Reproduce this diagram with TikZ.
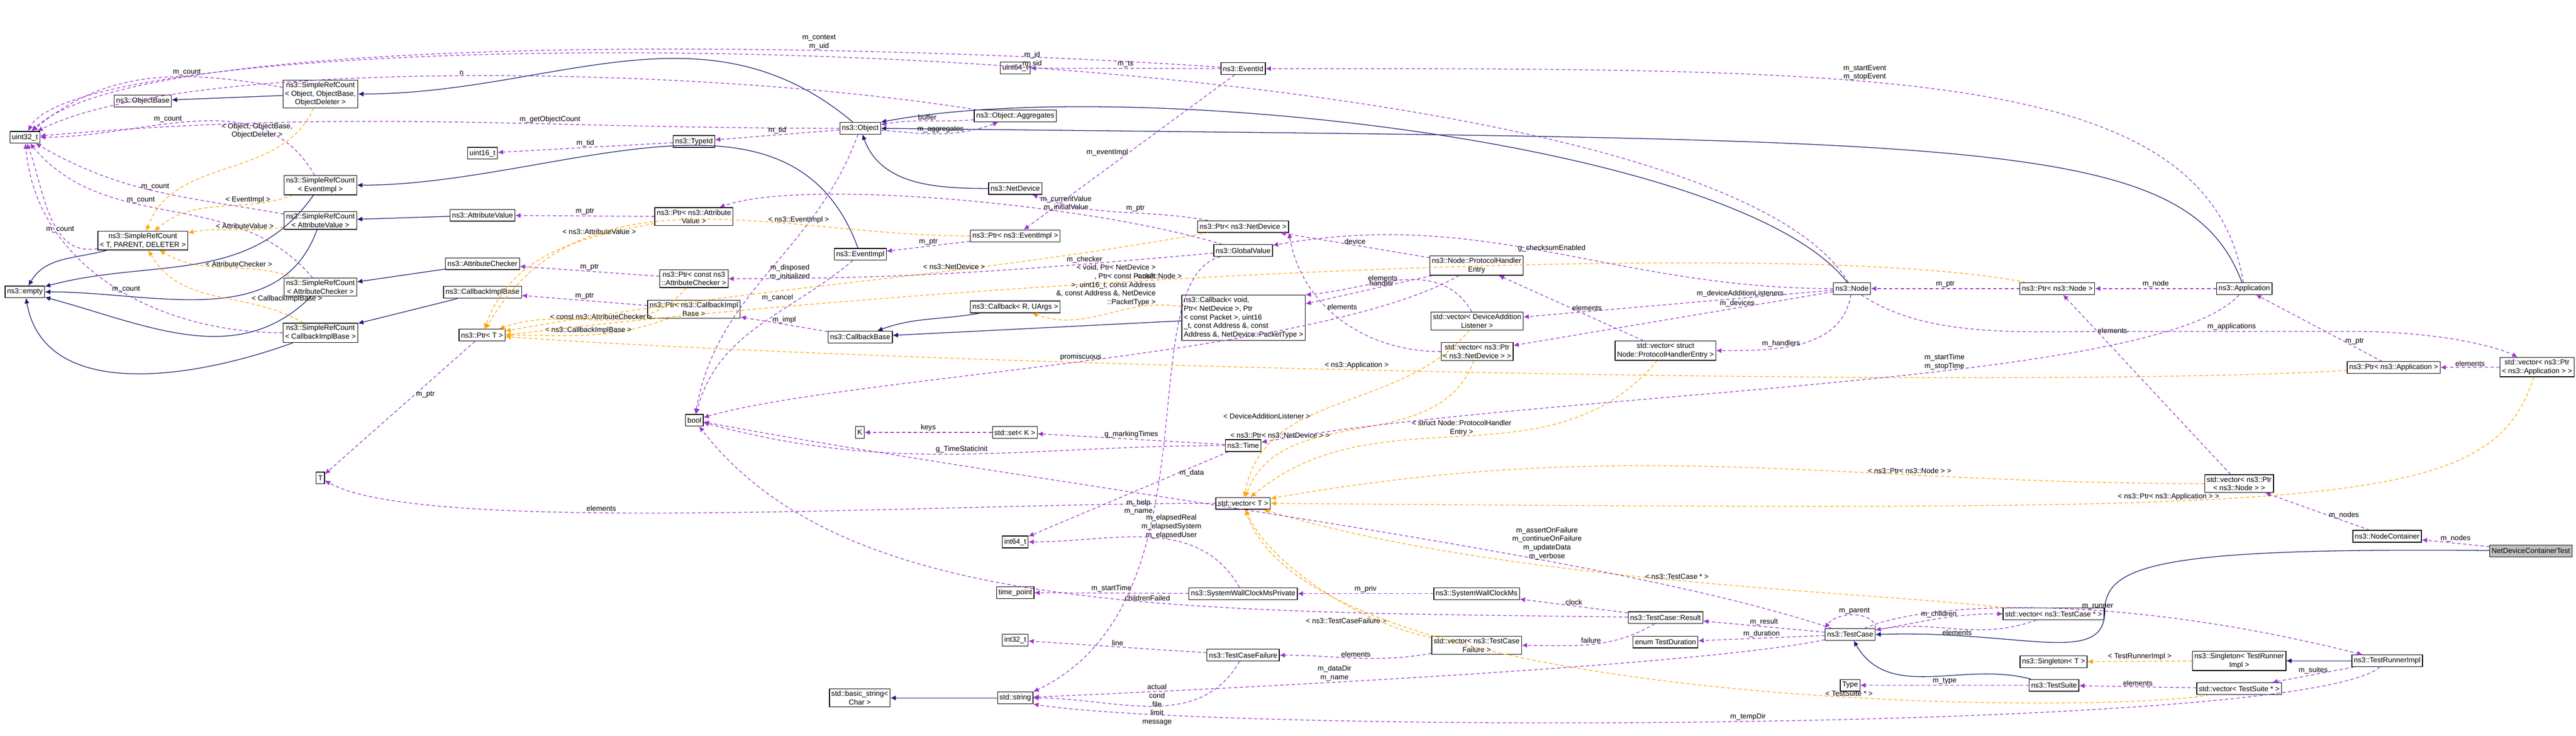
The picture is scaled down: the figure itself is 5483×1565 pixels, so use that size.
\documentclass[tikz,border=0pt]{standalone}
\usepackage{fontspec}
\setmainfont{Liberation Sans}
\usetikzlibrary{arrows.meta,positioning}
\definecolor{usecol}{HTML}{9A32CD}
\definecolor{inhcol}{HTML}{191970}
\definecolor{tplcol}{HTML}{FFA500}
\tikzset{
  x=0.01cm, y=-0.01cm,
  cls/.style={draw, fill=white, font=\fontsize{4.4}{5.2}\selectfont, inner sep=1.2pt, minimum height=0.25cm, align=center},
  use/.style={draw=usecol, dash pattern=on 2pt off 1.5pt, -{Latex[length=3.2pt,width=3pt]}},
  inh/.style={draw=inhcol, -{Latex[length=3.2pt,width=3pt]}},
  tpl/.style={draw=tplcol, dash pattern=on 2pt off 1.5pt, -{Latex[length=3.2pt,width=3pt]}},
  lbl/.style={font=\fontsize{4.4}{5.2}\selectfont, inner sep=0.5pt, align=center}
}
\begin{document}
\begin{tikzpicture}
  \useasboundingbox (0,0) rectangle (5483,1565);
  % left column
  \node[cls] (u32) at (53,292) {uint32\_t};
  \node[cls] (empty) at (53,621) {ns3::empty};
  \node[cls] (objbase) at (304,215) {ns3::ObjectBase};
  \node[cls] (srcTPD) at (304,512) {ns3::SimpleRefCount\\ \textless{} T, PARENT, DELETER \textgreater};
  \node[cls] (srcObj) at (682,200) {ns3::SimpleRefCount\\ \textless{} Object, ObjectBase,\\ ObjectDeleter \textgreater};
  \node[cls] (srcEv) at (682,394) {ns3::SimpleRefCount\\ \textless{} EventImpl \textgreater};
  \node[cls] (srcAV) at (682,469) {ns3::SimpleRefCount\\ \textless{} AttributeValue \textgreater};
  \node[cls] (srcAC) at (682,611) {ns3::SimpleRefCount\\ \textless{} AttributeChecker \textgreater};
  \node[cls] (srcCB) at (682,708) {ns3::SimpleRefCount\\ \textless{} CallbackImplBase \textgreater};
  \node[cls] (tT) at (682,1017) {T};
  % second column
  \node[cls] (u16) at (1027,326) {uint16\_t};
  \node[cls] (attrval) at (1027,458) {ns3::AttributeValue};
  \node[cls] (attrchk) at (1027,561) {ns3::AttributeChecker};
  \node[cls] (cbimpl) at (1027,622) {ns3::CallbackImplBase};
  \node[cls] (ptrT) at (1026,713) {ns3::Ptr\textless{} T \textgreater};
  % third column
  \node[cls] (typeid) at (1477,301) {ns3::TypeId};
  \node[cls] (ptrAV) at (1477,461) {ns3::Ptr\textless{} ns3::Attribute\\ Value \textgreater};
  \node[cls] (ptrAC) at (1477,593) {ns3::Ptr\textless{} const ns3\\ ::AttributeChecker \textgreater};
  \node[cls] (ptrCB) at (1477,658) {ns3::Ptr\textless{} ns3::CallbackImpl\\ Base \textgreater};
  \node[cls] (boolT) at (1478,894) {bool};
  % fourth column
  \node[cls] (obj) at (1831,273) {ns3::Object};
  \node[cls] (evimpl) at (1831,541) {ns3::EventImpl};
  \node[cls] (cbbase) at (1831,717) {ns3::CallbackBase};
  \node[cls] (kT) at (1830,920) {K};
  \node[cls] (bstr) at (1830,1485) {std::basic\_string\textless\\ Char \textgreater};
  % fifth column
  \node[cls] (u64) at (2161,145) {uint64\_t};
  \node[cls] (aggr) at (2161,247) {ns3::Object::Aggregates};
  \node[cls] (netdev) at (2161,401) {ns3::NetDevice};
  \node[cls] (ptrEv) at (2161,502) {ns3::Ptr\textless{} ns3::EventImpl \textgreater};
  \node[cls] (cbRU) at (2161,653) {ns3::Callback\textless{} R, UArgs \textgreater};
  \node[cls] (setK) at (2160,920) {std::set\textless{} K \textgreater};
  \node[cls] (i64) at (2161,1153) {int64\_t};
  \node[cls] (tpoint) at (2161,1261) {time\_point};
  \node[cls] (i32) at (2161,1362) {int32\_t};
  \node[cls] (sstr) at (2161,1485) {std::string};
  % sixth column
  \node[cls] (evid) at (2646,146) {ns3::EventId};
  \node[cls] (ptrND) at (2646,482) {ns3::Ptr\textless{} ns3::NetDevice \textgreater};
  \node[cls] (gval) at (2646,533) {ns3::GlobalValue};
  \node[cls, align=left] (cbvoid) at (2647,676) {ns3::Callback\textless{} void,\\ Ptr\textless{} NetDevice \textgreater, Ptr\\ \textless{} const Packet \textgreater, uint16\\ \_t, const Address \&, const\\ Address \&, NetDevice::PacketType \textgreater};
  \node[cls] (timeT) at (2646,948) {ns3::Time};
  \node[cls] (vecT) at (2646,1071) {std::vector\textless{} T \textgreater};
  \node[cls] (swcmp) at (2646,1263) {ns3::SystemWallClockMsPrivate};
  \node[cls] (tcfail) at (2646,1394) {ns3::TestCaseFailure};
  % seventh column
  \node[cls] (phe) at (3143,565) {ns3::Node::ProtocolHandler\\ Entry};
  \node[cls] (vecDAL) at (3144,683) {std::vector\textless{} DeviceAddition\\ Listener \textgreater};
  \node[cls] (vecPND) at (3144,748) {std::vector\textless{} ns3::Ptr\\ \textless{} ns3::NetDevice \textgreater{} \textgreater};
  \node[cls] (swcm) at (3143,1263) {ns3::SystemWallClockMs};
  \node[cls] (vecTCF) at (3143,1373) {std::vector\textless{} ns3::TestCase\\ Failure \textgreater};
  % eighth column
  \node[cls] (vecPHE) at (3545,746) {std::vector\textless{} struct\\ Node::ProtocolHandlerEntry \textgreater};
  \node[cls] (result) at (3545,1314) {ns3::TestCase::Result};
  \node[cls] (tdur) at (3545,1366) {enum TestDuration};
  % ninth column
  \node[cls] (node) at (3942,614) {ns3::Node};
  \node[cls] (tcase) at (3938,1350) {ns3::TestCase};
  \node[cls] (typeT) at (3938,1458) {Type};
  % right part
  \node[cls] (ptrNode) at (4379,614) {ns3::Ptr\textless{} ns3::Node \textgreater};
  \node[cls] (vecTC) at (4371,1306) {std::vector\textless{} ns3::TestCase * \textgreater};
  \node[cls] (singT) at (4371,1408) {ns3::Singleton\textless{} T \textgreater};
  \node[cls] (tsuite) at (4372,1458) {ns3::TestSuite};
  \node[cls] (app) at (4777,614) {ns3::Application};
  \node[cls] (vecPNode) at (4766,1029) {std::vector\textless{} ns3::Ptr\\ \textless{} ns3::Node \textgreater{} \textgreater};
  \node[cls] (singTR) at (4766,1406) {ns3::Singleton\textless{} TestRunner\\ Impl \textgreater};
  \node[cls] (vecTS) at (4766,1465) {std::vector\textless{} TestSuite * \textgreater};
  \node[cls] (ptrApp) at (5095,782) {ns3::Ptr\textless{} ns3::Application \textgreater};
  \node[cls] (nodecont) at (5081,1141) {ns3::NodeContainer};
  \node[cls] (trimpl) at (5081,1406) {ns3::TestRunnerImpl};
  \node[cls] (vecPApp) at (5400,781) {std::vector\textless{} ns3::Ptr\\ \textless{} ns3::Application \textgreater{} \textgreater};
  \node[cls, fill=black!25] (ndct) at (5387,1172) {NetDeviceContainerTest};

  % inheritance
  \draw[inh] (srcTPD) to[out=195,in=60] (empty);
  \draw[inh] (srcEv) to[out=235,in=15] (empty);
  \draw[inh] (srcAV) to[out=250,in=0] (empty);
  \draw[inh] (srcAC) to[out=225,in=-15] (empty);
  \draw[inh] (srcCB) to[out=200,in=-80] (empty);
  \draw[inh] (srcObj) -- (objbase);
  \draw[inh] (obj) to[out=140,in=0] (srcObj);
  \draw[inh] (evimpl) to[out=110,in=0] (srcEv);
  \draw[inh] (attrval) -- (srcAV);
  \draw[inh] (attrchk) -- (srcAC);
  \draw[inh] (cbimpl) -- (srcCB);
  \draw[inh] (netdev) to[out=180,in=-70] (obj);
  \draw[inh] (node) .. controls (3700,300) and (2400,160) .. (obj.north east);
  \draw[inh] (app) .. controls (4650,280) and (4200,300) .. (obj.east);
  \draw[inh] (cbRU) to[out=190,in=20] (cbbase);
  \draw[inh] (cbvoid) -- (cbbase);
  \draw[inh] (sstr) -- (bstr);
  \draw[inh] (tsuite) to[out=165,in=-60] (tcase);
  \draw[inh] (ndct) .. controls (4600,1165) and (4480,1200) .. (4480,1300) .. controls (4480,1420) and (4300,1340) .. (tcase.east);
  \draw[inh] (trimpl) -- (singTR);

  % templates
  \draw[tpl] (srcObj) to[out=245,in=70] node[lbl,pos=0.12,left=3pt]{\textless{} Object, ObjectBase,\\ ObjectDeleter \textgreater} (srcTPD);
  \draw[tpl] (srcEv) to[out=200,in=40] node[lbl,pos=0.3,above]{\textless{} EventImpl \textgreater} (srcTPD);
  \draw[tpl] (srcAV) to[out=190,in=10] node[lbl,pos=0.4,above]{\textless{} AttributeValue \textgreater} (srcTPD);
  \draw[tpl] (srcAC) to[out=160,in=-30] node[lbl,pos=0.4,above]{\textless{} AttributeChecker \textgreater} (srcTPD);
  \draw[tpl] (srcCB) to[out=150,in=-60] node[lbl,pos=0.3,above right]{\textless{} CallbackImplBase \textgreater} (srcTPD);
  \draw[tpl] (ptrAV) to[out=190,in=70] node[lbl,pos=0.25,above]{\textless{} ns3::AttributeValue \textgreater} (ptrT);
  \draw[tpl] (ptrEv) to[out=180,in=60] node[lbl,pos=0.3,above]{\textless{} ns3::EventImpl \textgreater} (ptrT);
  \draw[tpl] (ptrAC) to[out=230,in=20] node[lbl,pos=0.5,above]{\textless{} const ns3::AttributeChecker \textgreater} (ptrT);
  \draw[tpl] (ptrCB) to[out=200,in=0] node[lbl,pos=0.5,above]{\textless{} ns3::CallbackImplBase \textgreater} (ptrT);
  \draw[tpl] (ptrND) to[out=190,in=10] node[lbl,pos=0.35,above]{\textless{} ns3::NetDevice \textgreater} (ptrT);
  \draw[tpl] (ptrNode) .. controls (3800,500) and (2000,600) .. node[lbl,pos=0.6,above]{\textless{} ns3::Node \textgreater} (ptrT.east);
  \draw[tpl] (ptrApp) .. controls (4300,830) and (2000,780) .. node[lbl,pos=0.55,above]{\textless{} ns3::Application \textgreater} (ptrT);
  \draw[tpl] (cbvoid) to[out=170,in=-20] node[lbl,pos=0.5,above=4pt, align=right]{\textless{} void, Ptr\textless{} NetDevice \textgreater\\ , Ptr\textless{} const Packet\\ \textgreater, uint16\_t, const Address\\ \&, const Address \&, NetDevice\\ ::PacketType \textgreater} (cbRU);
  \draw[tpl] (vecDAL) to[out=230,in=80] node[lbl,pos=0.6,left]{\textless{} DeviceAdditionListener \textgreater} (vecT);
  \draw[tpl] (vecPND) to[out=250,in=70] node[lbl,pos=0.6,left]{\textless{} ns3::Ptr\textless{} ns3::NetDevice \textgreater{} \textgreater} (vecT);
  \draw[tpl] (vecPHE) to[out=230,in=40] node[lbl,pos=0.5,above]{\textless{} struct Node::ProtocolHandler\\ Entry \textgreater} (vecT);
  \draw[tpl] (vecPNode) to[out=180,in=10] node[lbl,pos=0.3,above]{\textless{} ns3::Ptr\textless{} ns3::Node \textgreater{} \textgreater} (vecT);
  \draw[tpl] (vecPApp) .. controls (5300,1090) and (5000,1088) .. node[lbl,pos=0.6,above]{\textless{} ns3::Ptr\textless{} ns3::Application \textgreater{} \textgreater} (vecT.east);
  \draw[tpl] (vecTC) .. controls (4000,1260) and (3200,1240) .. node[lbl,pos=0.5,above]{\textless{} ns3::TestCase * \textgreater} (vecT);
  \draw[tpl] (vecTCF) .. controls (2900,1330) and (2700,1200) .. node[lbl,pos=0.2,above left]{\textless{} ns3::TestCaseFailure \textgreater} (vecT);
  \draw[tpl] (vecTS) .. controls (4500,1520) and (2800,1520) .. node[lbl,pos=0.4,above]{\textless{} TestSuite * \textgreater} (vecT);
  \draw[tpl] (singTR) -- node[lbl,above]{\textless{} TestRunnerImpl \textgreater} (singT);

  % usage: uint32_t
  \draw[use] (srcObj) to[out=170,in=40] node[lbl,pos=0.35,above]{m\_count} (u32);
  \draw[use] (srcTPD) to[out=190,in=-70] node[lbl,pos=0.35,above]{m\_count} (u32);
  \draw[use] (srcEv) to[out=120,in=0] node[lbl,pos=0.6,above]{m\_count} (u32);
  \draw[use] (srcAV) to[out=170,in=-30] node[lbl,pos=0.5,above]{m\_count} (u32);
  \draw[use] (srcAC) to[out=130,in=-50] node[lbl,pos=0.6,above]{m\_count} (u32);
  \draw[use] (srcCB) to[out=180,in=-85] node[lbl,pos=0.45,above]{m\_count} (u32);
  \draw[use] (obj) to[out=180,in=5] node[lbl,pos=0.35,above]{m\_getObjectCount} (u32);
  \draw[use] (aggr) .. controls (1500,140) and (400,120) .. node[lbl,pos=0.5,above]{n} (u32);
  \draw[use] (evid) .. controls (1800,90) and (300,60) .. node[lbl,pos=0.3,above]{m\_context\\ m\_uid} (u32);
  \draw[use] (node) .. controls (3600,40) and (200,10) .. node[lbl,pos=0.45,above]{m\_id\\ m\_sid} (u32);
  % usage: object system
  \draw[use] (typeid) -- node[lbl,above]{m\_tid} (u16);
  \draw[use] (obj) -- node[lbl,above]{m\_tid} (typeid);
  \draw[use] (aggr) to[out=185,in=10] node[lbl,above]{buffer} (obj);
  \draw[use] (obj) to[out=-5,in=200] node[lbl,above]{m\_aggregates} (aggr);
  \draw[use] (obj) to[out=250,in=80] node[lbl,pos=0.5,right]{m\_disposed\\ m\_initialized} (boolT);
  \draw[use] (evimpl) to[out=220,in=75] node[lbl,pos=0.3,above left]{m\_cancel} (boolT);
  \draw[use] (phe) .. controls (2800,760) and (1800,800) .. node[lbl,pos=0.5,above]{promiscuous} (boolT);
  \draw[use] (timeT) to[out=180,in=-15] node[lbl,pos=0.5,above]{g\_TimeStaticInit} (boolT);
  \draw[use] (tcase) .. controls (3400,1170) and (2200,1030) .. node[lbl,pos=0.3,above]{m\_assertOnFailure\\ m\_continueOnFailure\\ m\_updateData\\ m\_verbose} (boolT);
  \draw[use] (result) .. controls (2500,1300) and (1800,1310) .. node[lbl,pos=0.4,above]{childrenFailed} (boolT);
  \draw[use] (evid) -- node[lbl,above]{m\_ts} (u64);
  \draw[use] (app) .. controls (4700,140) and (4000,146) .. node[lbl,pos=0.6,above]{m\_startEvent\\ m\_stopEvent} (evid);
  \draw[use] (ptrEv) -- node[lbl,above]{m\_ptr} (evimpl);
  \draw[use] (evid) -- node[lbl,pos=0.5,left]{m\_eventImpl} (ptrEv);
  \draw[use] (ptrAV) -- node[lbl,above]{m\_ptr} (attrval);
  \draw[use] (gval) .. controls (2300,430) and (1700,380) .. node[lbl,pos=0.3,above]{m\_currentValue\\ m\_initialValue} (ptrAV);
  \draw[use] (ptrAC) -- node[lbl,above]{m\_ptr} (attrchk);
  \draw[use] (gval) to[out=185,in=0] node[lbl,pos=0.25,above]{m\_checker} (ptrAC);
  \draw[use] (ptrCB) -- node[lbl,above]{m\_ptr} (cbimpl);
  \draw[use] (cbbase) -- node[lbl,above]{m\_impl} (ptrCB);
  \draw[use] (ptrT) -- node[lbl,pos=0.4,right]{m\_ptr} (tT);
  \draw[use] (vecT) .. controls (2000,1070) and (900,1140) .. node[lbl,pos=0.6,above]{elements} (tT);
  % usage: node part
  \draw[use] (ptrND) to[out=170,in=-20] node[lbl,pos=0.4,above]{m\_ptr} (netdev);
  \draw[use] (node) to[out=180,in=10] node[lbl,pos=0.5,above]{g\_checksumEnabled} (gval);
  \draw[use] (phe) -- node[lbl,pos=0.5,above]{device} (ptrND);
  \draw[use] (vecPND) to[out=180,in=-80] node[lbl,pos=0.6,right]{elements} (ptrND.south east);
  \draw[use] (phe) -- node[lbl,pos=0.4,above]{handler} (cbvoid);
  \draw[use] (vecDAL) to[out=120,in=5] node[lbl,pos=0.6,above]{elements} (cbvoid.north east);
  \draw[use] (vecPHE) -- node[lbl,pos=0.5,right]{elements} (phe);
  \draw[use] (node) -- node[lbl,pos=0.3,above]{m\_deviceAdditionListeners} (vecDAL);
  \draw[use] (node) -- node[lbl,pos=0.3,above]{m\_devices} (vecPND);
  \draw[use] (node) to[out=-100,in=0] node[lbl,pos=0.5,left]{m\_handlers} (vecPHE);
  \draw[use] (ptrNode) -- node[lbl,above]{m\_ptr} (node);
  \draw[use] (app) -- node[lbl,above]{m\_node} (ptrNode);
  \draw[use] (vecPNode) -- node[lbl,pos=0.8,right]{elements} (ptrNode);
  \draw[use] (ptrApp) -- node[lbl,pos=0.3,right]{m\_ptr} (app);
  \draw[use] (vecPApp) -- node[lbl,above]{elements} (ptrApp);
  \draw[use] (node) .. controls (4100,720) and (4300,705) .. (4500,705) -- node[lbl,above]{m\_applications} (5000,705) .. controls (5200,705) and (5320,740) .. (vecPApp);
  \draw[use] (app) .. controls (4600,820) and (3300,830) .. node[lbl,pos=0.4,above]{m\_startTime\\ m\_stopTime} (timeT);
  % usage: time and tests
  \draw[use] (setK) -- node[lbl,above]{keys} (kT);
  \draw[use] (timeT) -- node[lbl,above]{g\_markingTimes} (setK);
  \draw[use] (timeT) -- node[lbl,pos=0.25,right]{m\_data} (i64);
  \draw[use] (swcmp) to[out=120,in=0] node[lbl,pos=0.4,above]{m\_elapsedReal\\ m\_elapsedSystem\\ m\_elapsedUser} (i64);
  \draw[use] (swcmp) -- node[lbl,above]{m\_startTime} (tpoint);
  \draw[use] (swcm) -- node[lbl,above]{m\_priv} (swcmp);
  \draw[use] (result) -- node[lbl,above]{clock} (swcm);
  \draw[use] (result) to[out=210,in=0] node[lbl,above]{failure} (vecTCF);
  \draw[use] (vecTCF) to[out=190,in=0] node[lbl,above]{elements} (tcfail);
  \draw[use] (tcfail) -- node[lbl,above]{line} (i32);
  \draw[use] (tcfail) to[out=240,in=0] node[lbl,pos=0.4,left]{actual\\ cond\\ file\\ limit\\ message} (sstr);
  \draw[use] (gval) .. controls (2400,600) and (2600,1280) .. node[lbl,pos=0.6,left]{m\_help\\ m\_name} (sstr.north east);
  \draw[use] (tcase) .. controls (3600,1420) and (2500,1470) .. node[lbl,pos=0.6,above]{m\_dataDir\\ m\_name} (sstr);
  \draw[use] (trimpl) .. controls (4900,1560) and (2600,1560) .. node[lbl,pos=0.5,above]{m\_tempDir} (sstr.south east);
  \draw[use] (tcase) -- node[lbl,above]{m\_result} (result);
  \draw[use] (tcase) -- node[lbl,above]{m\_duration} (tdur);
  \draw[use] (tcase.north east) .. controls (3990,1300) and (3910,1300) .. node[lbl,above]{m\_parent} (tcase.north west);
  \draw[use] (vecTC) to[out=200,in=10] node[lbl,pos=0.5,below]{elements} (tcase);
  \draw[use] (tcase) to[out=10,in=180] node[lbl,pos=0.5,above]{m\_children} (vecTC);
  \draw[use] (tcase) .. controls (4100,1280) and (4500,1260) .. node[lbl,pos=0.6,above]{m\_runner} (trimpl);
  \draw[use] (nodecont) -- node[lbl,pos=0.4,right]{m\_nodes} (vecPNode);
  \draw[use] (ndct) -- node[lbl,above]{m\_nodes} (nodecont);
  \draw[use] (trimpl) -- node[lbl,above]{m\_suites} (vecTS);
  \draw[use] (vecTS) -- node[lbl,above]{elements} (tsuite);
  \draw[use] (tsuite) -- node[lbl,above]{m\_type} (typeT);
\end{tikzpicture}
\end{document}
